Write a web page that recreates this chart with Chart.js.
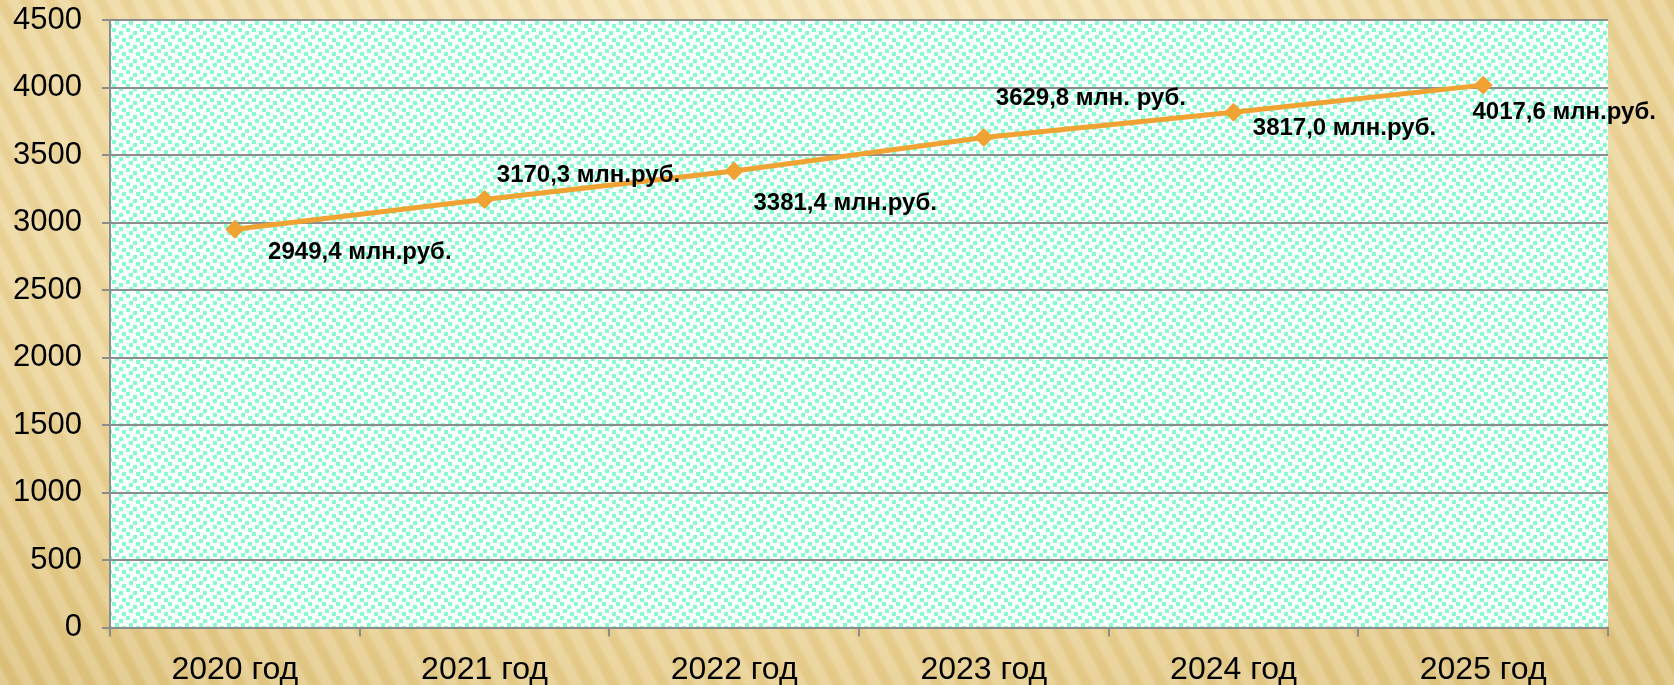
<!DOCTYPE html>
<html>
<head>
<meta charset="utf-8">
<script src="https://cdn.jsdelivr.net/npm/chart.js@4.4.1/dist/chart.umd.min.js"></script>
<style>
  html, body { margin: 0; padding: 0; }
  body {
    width: 1674px; height: 685px; overflow: hidden;
    background:
      repeating-linear-gradient(62deg, rgba(255,255,255,0.16) 0px, rgba(255,255,255,0.16) 7px, rgba(170,120,40,0.05) 11px, rgba(170,120,40,0.05) 17px, rgba(255,255,255,0.16) 22px),
      radial-gradient(ellipse 75% 95% at 48% 25%, #faebc4 0%, #f3e0ac 45%, #e8cf8f 75%, #ddc27c 100%);
  }
  canvas { display: block; }
</style>
</head>
<body>
<canvas id="c" width="1674" height="685"></canvas>
<script>
// ---- data ----
const categories = ['2020 год', '2021 год', '2022 год', '2023 год', '2024 год', '2025 год'];
const values = [2949.4, 3170.3, 3381.4, 3629.8, 3817.0, 4017.6];
const valueLabels = ['2949,4 млн.руб.', '3170,3 млн.руб.', '3381,4 млн.руб.', '3629,8 млн. руб.', '3817,0 млн.руб.', '4017,6 млн.руб.'];
const yTicks = [0, 500, 1000, 1500, 2000, 2500, 3000, 3500, 4000, 4500];

// label placement offsets (pixels from the point), kept apart from data
const labelOffsets = [[125, 23], [104, -24], [111, 32], [107, -39], [111, 16], [81, 27]];

function makePattern(ctx) {
  const t = document.createElement('canvas');
  t.width = 14; t.height = 14;
  const g = t.getContext('2d');
  g.fillStyle = '#fbfffd';
  g.fillRect(0, 0, 14, 14);
  g.fillStyle = 'rgb(136, 250, 206)';
  [[0,0],[7,3],[3,7],[10,10]].forEach(([x,y]) => g.fillRect(x, y, 4, 4));
  return ctx.createPattern(t, 'repeat');
}

const areaBg = {
  id: 'areaBg',
  beforeDraw(chart) {
    const {ctx, chartArea: a} = chart;
    ctx.save();
    ctx.fillStyle = makePattern(ctx);
    ctx.fillRect(a.left, a.top, a.right - a.left, a.bottom - a.top);
    ctx.restore();
  }
};

const valueLabelPlugin = {
  id: 'valueLabelPlugin',
  afterDatasetsDraw(chart) {
    const {ctx} = chart;
    const meta = chart.getDatasetMeta(0);
    ctx.save();
    ctx.font = 'bold 24px "Liberation Sans", Arial, sans-serif';
    ctx.fillStyle = '#000';
    ctx.textAlign = 'center';
    ctx.textBaseline = 'middle';
    meta.data.forEach((pt, i) => {
      const [dx, dy] = labelOffsets[i];
      ctx.fillText(valueLabels[i], pt.x + dx, pt.y + dy);
    });
    ctx.restore();
  }
};

new Chart(document.getElementById('c'), {
  type: 'line',
  data: {
    labels: categories,
    datasets: [{
      data: values,
      borderColor: '#F0A232',
      backgroundColor: '#F0A232',
      borderWidth: 5,
      pointStyle: 'rectRot',
      pointRadius: 9,
      pointBorderWidth: 1,
      pointBackgroundColor: '#F0A232',
      pointBorderColor: '#F0A232',
      tension: 0,
      fill: false
    }]
  },
  options: {
    responsive: false,
    animation: false,
    devicePixelRatio: 1,
    layout: { padding: { top: 0, right: 66, left: 0, bottom: 0 } },
    plugins: { legend: { display: false }, tooltip: { enabled: false } },
    scales: {
      x: {
        offset: true,
        grid: { offset: true, drawOnChartArea: false, drawTicks: true, tickLength: 9, color: '#8c8c8c', lineWidth: 2 },
        border: { color: '#8c8c8c', width: 2 },
        ticks: { color: '#000', padding: 14, maxRotation: 0, font: { family: '"Liberation Sans", Arial, sans-serif', size: 32 } },
        afterFit(scale) { scale.height = 57.5; }
      },
      y: {
        min: 0, max: 4500,
        afterBuildTicks(scale) { scale.ticks = yTicks.map(v => ({ value: v })); },
        grid: { color: '#8c8c8c', lineWidth: 2, tickLength: 8 },
        border: { color: '#8c8c8c', width: 2 },
        ticks: { color: '#000', padding: 20, callback: v => String(v), font: { family: '"Liberation Sans", Arial, sans-serif', size: 31, lineHeight: 0.001 } },
        afterFit(scale) { scale.width = 110; }
      }
    }
  },
  plugins: [areaBg, valueLabelPlugin]
});
</script>
</body>
</html>
